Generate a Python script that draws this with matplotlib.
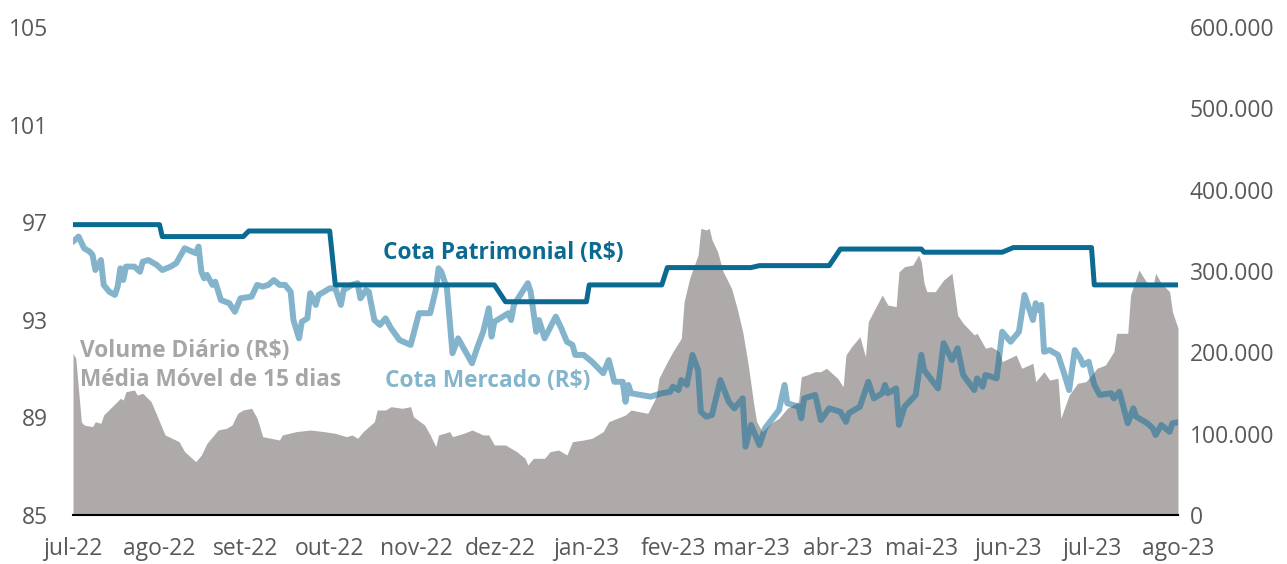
import matplotlib
matplotlib.use("Agg")
import matplotlib.pyplot as plt
import numpy as np
import pandas as pd
from matplotlib.ticker import FuncFormatter

plt.rcParams["font.family"] = ["Open Sans", "DejaVu Sans"]

inicio = pd.Timestamp("2022-07-01")

# cota patrimonial (dias desde 01/07/2022, R$)
patrimonial_dias = [0, 31, 32, 61, 63, 92, 94, 151, 155, 184, 185, 211, 213, 243,
                    246, 271, 275, 304, 305, 333, 337, 365, 366, 396]
patrimonial_cota = [96.9, 96.9, 96.41, 96.41, 96.64, 96.64, 94.43, 94.43, 93.74, 93.74,
                    94.43, 94.43, 95.14, 95.14, 95.22, 95.22, 95.9, 95.9, 95.77, 95.77,
                    95.96, 95.96, 94.43, 94.43]

# cota de mercado
mercado_dias = [0, 2, 4, 6, 7, 8, 10, 11, 13, 15, 16, 17, 18, 19, 22, 24, 25, 27, 30, 32,
                35, 37, 40, 44, 45, 46, 47, 48, 50, 51, 53, 56, 58, 60, 64, 66, 68, 70, 72, 74,
                76, 78, 79, 81, 82, 84, 85, 87, 88, 90, 92, 94, 96, 97, 100, 102, 103, 105, 106, 108,
                110, 112, 114, 117, 121, 124, 128, 130, 131, 132, 134, 136, 138, 143, 145, 147, 149, 150, 151, 156,
                157, 158, 163, 164, 166, 167, 169, 173, 175, 177, 179, 180, 183, 186, 190, 192, 194, 197, 198, 199,
                200, 207, 211, 214, 215, 217, 218, 220, 222, 224, 225, 227, 229, 232, 235, 237, 240, 241, 243, 246,
                248, 253, 255, 256, 260, 261, 262, 266, 268, 271, 275, 277, 278, 282, 285, 287, 290, 291, 292, 295,
                296, 298, 302, 304, 305, 310, 312, 315, 317, 319, 323, 324, 326, 327, 331, 333, 336, 339, 341, 344,
                345, 346, 347, 348, 350, 353, 355, 357, 359, 361, 362, 364, 366, 368, 372, 373, 375, 378, 380, 381,
                385, 387, 388, 390, 393, 394, 396]
mercado_cota = [96.2, 96.41, 95.93, 95.79, 95.66, 95.04, 95.45, 94.43, 94.15, 94.02, 94.36, 95.11, 94.63, 95.18, 95.18, 94.97, 95.38, 95.45, 95.25, 95.04,
                95.18, 95.32, 95.93, 95.73, 96.0, 94.97, 94.70, 94.84, 94.43, 94.56, 93.81, 93.68, 93.33, 93.88, 93.95, 94.43, 94.36, 94.43, 94.63, 94.43,
                94.43, 94.15, 92.99, 92.24, 92.92, 93.06, 94.09, 93.61, 94.02, 94.15, 94.29, 94.29, 93.61, 94.22, 94.43, 94.50, 93.88, 94.22, 94.15, 92.99,
                92.79, 93.06, 92.65, 92.17, 91.97, 93.27, 93.27, 94.22, 95.11, 94.97, 94.29, 91.63, 92.24, 91.22, 91.90, 92.51, 93.47, 92.31, 92.92, 93.27,
                92.99, 93.61, 94.50, 94.15, 92.51, 92.99, 92.24, 93.13, 92.65, 92.10, 91.97, 91.56, 91.56, 91.28, 90.81, 91.35, 90.46, 90.46, 89.64, 90.33,
                89.99, 89.85, 89.99, 90.05, 90.26, 90.12, 90.53, 90.33, 91.56, 90.94, 89.23, 89.03, 89.10, 90.53, 89.64, 89.37, 89.78, 87.80, 88.69, 87.87,
                88.55, 89.30, 90.33, 89.58, 89.44, 88.96, 89.78, 89.92, 88.89, 89.37, 89.23, 88.82, 89.17, 89.44, 90.46, 89.78, 89.99, 90.33, 89.99, 90.19,
                88.69, 89.44, 89.92, 91.56, 90.94, 90.19, 92.04, 91.35, 91.83, 90.74, 90.12, 90.60, 90.26, 90.74, 90.60, 92.51, 92.10, 92.51, 94.02, 92.99,
                93.68, 93.40, 93.61, 91.69, 91.76, 91.56, 90.87, 90.12, 91.76, 91.42, 91.15, 91.28, 90.33, 89.92, 89.99, 89.78, 90.05, 88.76, 89.37, 89.03,
                88.76, 88.55, 88.28, 88.69, 88.41, 88.76, 88.80]

# volume diario - media movel de 15 dias (mil R$)
volume_dias = [0, 1, 3, 4, 7, 8, 10, 11, 14, 17, 18, 19, 22, 23, 25, 28, 30, 33, 38, 40,
               42, 44, 46, 48, 51, 52, 55, 57, 59, 61, 64, 66, 68, 74, 75, 80, 85, 90, 94, 98,
               100, 102, 104, 108, 109, 112, 114, 118, 121, 122, 126, 128, 130, 131, 135, 136, 140, 143, 147, 149,
               151, 155, 159, 162, 163, 165, 169, 171, 174, 177, 179, 183, 186, 190, 192, 195, 198, 200, 203, 206,
               209, 210, 213, 215, 218, 219, 221, 224, 225, 227, 228, 229, 231, 233, 236, 238, 240, 242, 244, 245,
               247, 251, 253, 256, 258, 260, 261, 263, 266, 268, 270, 274, 276, 277, 279, 282, 284, 285, 290, 292,
               295, 296, 298, 301, 303, 304, 305, 306, 309, 312, 315, 317, 319, 323, 324, 326, 327, 329, 332, 333,
               338, 340, 344, 345, 348, 350, 353, 354, 357, 360, 363, 367, 370, 373, 374, 378, 379, 382, 385, 387,
               388, 390, 393, 394, 396]
volume_mm15 = [198.8, 192.7, 114.3, 110.7, 108.6, 114.7, 112.7, 123.0, 133.2, 143.5, 141.4, 151.6, 153.7, 147.5, 149.6, 139.3, 123.0, 98.4, 90.2, 77.9,
               71.7, 65.6, 73.8, 88.1, 100.4, 104.5, 106.6, 110.7, 125.0, 129.1, 131.2, 118.9, 96.3, 92.2, 98.4, 102.5, 104.5, 102.5, 100.4, 96.3,
               98.4, 94.3, 102.5, 114.7, 129.1, 129.1, 133.2, 131.2, 133.2, 120.9, 110.7, 98.4, 84.0, 98.4, 102.5, 96.3, 100.4, 104.5, 98.4, 98.4,
               86.1, 86.1, 77.9, 69.7, 61.5, 69.7, 69.7, 77.9, 79.9, 73.8, 90.2, 92.2, 94.3, 102.5, 114.7, 118.9, 123.0, 129.1, 127.0, 125.0,
               145.5, 168.1, 188.5, 200.8, 217.3, 262.3, 291.0, 319.7, 352.5, 350.4, 352.5, 338.1, 323.7, 299.1, 278.7, 254.1, 225.4, 184.4, 135.2, 114.7,
               102.5, 114.7, 118.9, 131.2, 135.2, 139.3, 170.0, 172.1, 176.2, 176.2, 180.4, 168.1, 157.7, 196.7, 206.9, 219.2, 194.6, 237.7, 270.5, 258.2,
               256.1, 299.1, 305.3, 307.4, 319.7, 311.4, 284.9, 274.6, 274.6, 288.9, 297.2, 245.9, 235.7, 221.3, 223.4, 211.1, 205.0, 206.9, 200.8, 188.5,
               196.7, 180.4, 186.5, 163.9, 176.2, 166.0, 168.1, 118.9, 147.5, 161.9, 163.9, 180.4, 184.4, 200.8, 223.4, 223.4, 270.5, 301.2, 284.9, 280.8,
               297.2, 284.9, 274.6, 250.0, 229.5]

meses = ["jul-22", "ago-22", "set-22", "out-22", "nov-22", "dez-22", "jan-23",
         "fev-23", "mar-23", "abr-23", "mai-23", "jun-23", "jul-23", "ago-23"]


def datas(dias):
    return inicio + pd.to_timedelta(dias, unit="D")


fig = plt.figure(figsize=(12.87, 5.64), dpi=100)
ax = fig.add_axes([73 / 1287, 1 - 515 / 564, 1105 / 1287, 488 / 564])
ax2 = ax.twinx()

ax2.fill_between(datas(volume_dias), np.array(volume_mm15) * 1000, 0,
                 color="#AEAAAA", linewidth=0)
ax.plot(datas(mercado_dias), mercado_cota, color="#0B6B99", alpha=0.5, lw=4.3,
        solid_joinstyle="round", solid_capstyle="round")
ax.plot(datas(patrimonial_dias), patrimonial_cota, color="#0B6A91", lw=3.6,
        solid_joinstyle="round", solid_capstyle="round")

ax.set_zorder(ax2.get_zorder() + 1)
ax.patch.set_visible(False)

ax.set_ylim(85, 105)
ax.set_yticks([85, 89, 93, 97, 101, 105])
ax2.set_ylim(0, 600000)
ax2.set_yticks(range(0, 600001, 100000))
ax2.yaxis.set_major_formatter(FuncFormatter(lambda v, p: f"{v:,.0f}".replace(",", ".")))

ticks = pd.date_range("2022-07-01", "2023-08-01", freq="MS")
ax.set_xlim(ticks[0], ticks[-1])
ax.set_xticks(ticks)
ax.set_xticklabels(meses)

for a in (ax, ax2):
    for s in a.spines.values():
        s.set_visible(False)
    a.tick_params(length=0, labelsize=16.5, colors="#595959")
ax.spines["bottom"].set_visible(True)
ax.spines["bottom"].set_color("black")
ax.spines["bottom"].set_linewidth(1.5)
ax.tick_params(axis="y", pad=18)
ax.tick_params(axis="x", pad=16)
ax2.tick_params(axis="y", pad=8.5)

fig.text(383 / 1287, 1 - 253 / 564, "Cota Patrimonial (R$)", color="#0B6A91",
         fontsize=16.3, fontweight="bold", va="center", ha="left")
fig.text(385 / 1287, 1 - 381 / 564, "Cota Mercado (R$)", color="#85B5CC",
         fontsize=16.3, fontweight="bold", va="center", ha="left")
fig.text(80 / 1287, 1 - 351 / 564, "Volume Diário (R$)", color="#A6A6A6",
         fontsize=16.3, fontweight="bold", va="center", ha="left")
fig.text(80 / 1287, 1 - 380 / 564, "Média Móvel de 15 dias", color="#A6A6A6",
         fontsize=16.3, fontweight="bold", va="center", ha="left")

fig.savefig("out.png", dpi=100)
